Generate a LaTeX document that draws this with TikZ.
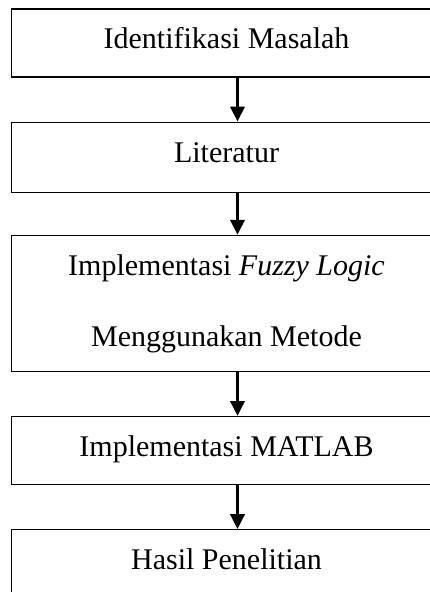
\documentclass[tikz,border=0pt]{standalone}
\usepackage{fontspec}
\setmainfont{Liberation Serif}
\usetikzlibrary{arrows.meta}
\usetikzlibrary{positioning}
\tikzset{stage/.style = {draw, line width=1.2pt, minimum width=430pt, minimum height=68pt,
                         inner sep=0pt, font=\fontsize{30}{36}\selectfont},
         oneline/.style = {text height=20.5pt, text depth=9pt},
         flow/.style = {line width=3.5pt, -{Triangle[width=14pt, length=15pt]}}}

\begin{document}
\begin{tikzpicture}[x=1pt, y=-1pt, node distance=44pt]
    \useasboundingbox (0, 0) rectangle (430, 592);

    \node [stage, oneline] (masalah) at (226.5, 43) {Identifikasi Masalah};
    \node [stage, oneline, minimum height=70pt, below=of masalah] (literatur) {Literatur};
    \node [stage, minimum height=136pt, align=center, font=\fontsize{30}{71}\selectfont,
           below=42pt of literatur] (fuzzy) {Implementasi \textit{Fuzzy Logic}\\Menggunakan Metode};
    \node [stage, oneline, below=of fuzzy] (matlab) {Implementasi MATLAB};
    \node [stage, oneline, below=of matlab] (hasil) {Hasil Penelitian};

    \draw [flow] ([xshift=11pt]masalah.south) -- ([xshift=11pt]literatur.north);
    \draw [flow] ([xshift=11pt]literatur.south) -- ([xshift=11pt]fuzzy.north);
    \draw [flow] ([xshift=11pt]fuzzy.south) -- ([xshift=11pt]matlab.north);
    \draw [flow] ([xshift=11pt]matlab.south) -- ([xshift=11pt]hasil.north);
\end{tikzpicture}
\end{document}
